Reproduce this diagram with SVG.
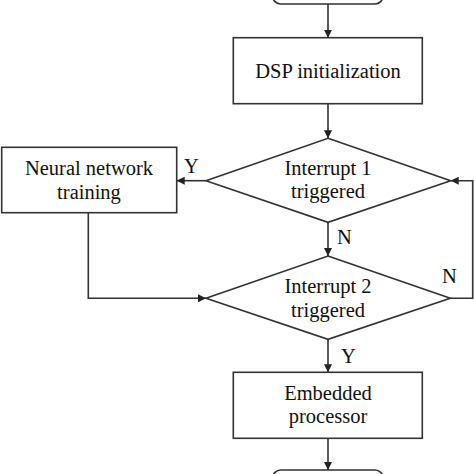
<svg xmlns="http://www.w3.org/2000/svg" width="474" height="474" viewBox="0 0 474 474">
<style>
.s{fill:#fff;stroke:#333;stroke-width:1.6}
.c{fill:none;stroke:#333;stroke-width:1.6}
text{font-family:"Liberation Serif","Times New Roman",serif;font-size:20.5px;fill:#111}
.m{text-anchor:middle}
</style>
<defs>
<marker id="a" viewBox="0 0 10 10" refX="10" refY="5" markerWidth="5" markerHeight="5" orient="auto" markerUnits="strokeWidth">
<path d="M0,0 L10,5 L0,10 z" fill="#222"/>
</marker>
</defs>
<g id="start"><rect class="s" x="272.7" y="-30" width="110.3" height="34" rx="8"/></g>
<g id="dsp"><rect class="s" x="233.3" y="37.7" width="189" height="66"/><text class="m" x="328" y="78">DSP initialization</text></g>
<g id="int1"><polygon class="s" points="328,138.3 450.7,180.7 328,222.3 206,180.7"/><text class="m" x="328" y="175">Interrupt 1</text><text class="m" x="328" y="198">triggered</text></g>
<g id="nn"><rect class="s" x="1.7" y="147.3" width="175" height="65.4"/><text class="m" x="89" y="175">Neural network</text><text class="m" x="89" y="199">training</text></g>
<g id="int2"><polygon class="s" points="328,256 450.3,298.3 328,339.3 206,298.3"/><text class="m" x="328" y="293">Interrupt 2</text><text class="m" x="328" y="317">triggered</text></g>
<g id="emb"><rect class="s" x="233.3" y="372.3" width="189" height="66"/><text class="m" x="328" y="400">Embedded</text><text class="m" x="328" y="423">processor</text></g>
<g id="end"><rect class="s" x="272.7" y="470" width="110.3" height="34" rx="8"/></g>
<g id="connectors">
<path class="c" d="M328,4 V37.7" marker-end="url(#a)"/>
<path class="c" d="M328,103.7 V138.3" marker-end="url(#a)"/>
<path class="c" d="M206,180.7 H176.7" marker-end="url(#a)"/>
<path class="c" d="M328,222.3 V256" marker-end="url(#a)"/>
<path class="c" d="M88.3,212.7 V298.3 H206" marker-end="url(#a)"/>
<path class="c" d="M450.3,298.3 H472.7 V180.7 H450.7" marker-end="url(#a)"/>
<path class="c" d="M328,339.3 V372.3" marker-end="url(#a)"/>
<path class="c" d="M328,438.3 V470" marker-end="url(#a)"/>
</g>
<g id="labels">
<text x="184" y="173">Y</text>
<text x="337" y="244">N</text>
<text x="442" y="283">N</text>
<text x="341" y="363">Y</text>
</g>
</svg>
